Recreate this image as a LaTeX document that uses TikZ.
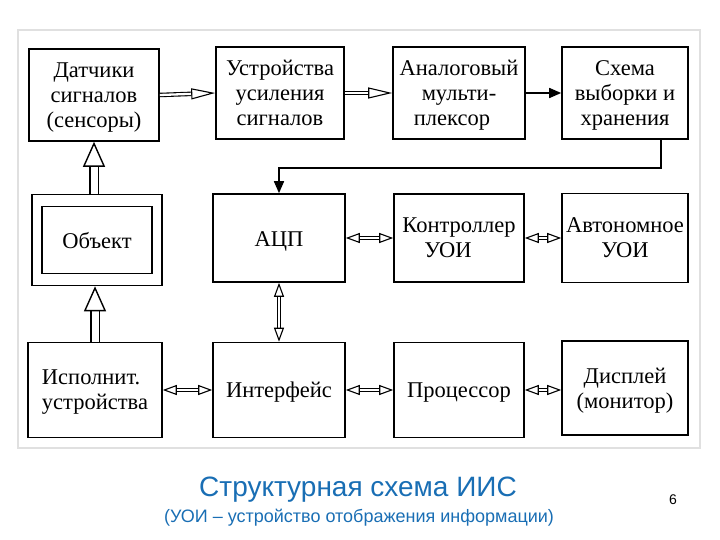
\documentclass[tikz,border=0pt]{standalone}
\usepackage{fontspec}
\setmainfont{Liberation Serif}
\setsansfont{Liberation Sans}
\usetikzlibrary{arrows.meta}
\definecolor{titleblue}{RGB}{25,110,180}

\begin{document}
\begin{tikzpicture}[x=1pt,y=-1pt]
\tikzstyle{every node}+=[inner sep=0pt]
\tikzstyle{box}=[draw, line width=1.6pt, minimum width=130pt, minimum height=92pt, align=center, text depth=0pt, font=\fontsize{22.5}{25}\selectfont]
\tikzstyle{hollow}=[double, double distance=2.3pt, line width=1.1pt, -{Triangle[open,length=24pt,width=11pt,line width=1.1pt]}]
\tikzstyle{hollowboth}=[double, double distance=2.3pt, line width=1.1pt, {Triangle[open,length=14pt,width=10pt,line width=1.1pt]}-{Triangle[open,length=14pt,width=10pt,line width=1.1pt]}]
\tikzstyle{bighollow}=[double, double distance=7pt, line width=1.4pt, -{Triangle[open,length=25pt,width=22pt,line width=1.4pt]}]
\tikzstyle{solid arrow}=[line width=1.6pt, -{Triangle[length=12pt,width=10pt]}]
\useasboundingbox (0,0) rectangle (720,540);
\draw [black!12, line width=1.5pt, fill=white] (18,30) rectangle (700,448);
% first row
\draw (94,95) node [box] (dat) {Датчики\\сигналов\\(сенсоры)};
\draw (280,93) node [box, minimum width=128pt] (usil) {Устройства\\усиления\\сигналов};
\draw (459,93) node [box, minimum width=132pt] (mux) {Аналоговый\\мульти-\hspace*{14pt}\\плексор\hspace*{14pt}};
\draw (625,93) node [box, minimum width=126pt] (sh) {Схема\\выборки и\\хранения};
% second row
\draw (97,240) node [box, minimum height=91pt] (objout) {};
\draw (97,240) node [box, minimum width=110pt, minimum height=67pt] (obj) {Объект};
\draw (279,238) node [box, minimum width=132pt, minimum height=88pt] (adc) {\raisebox{-3pt}{АЦП}};
\draw (459,238) node [box, minimum height=88pt] (ctrl) {Контроллер\\УОИ\hspace*{22pt}};
\draw (625,238) node [box, minimum width=126pt, minimum height=89pt] (auto) {Автономное\\УОИ};
% third row
\draw (95,390) node [box, minimum width=134pt, minimum height=95pt, align=left] (isp) {Исполнит.\\устройства};
\draw (279,390) node [box, minimum width=132pt, minimum height=95pt] (intf) {Интерфейс};
\draw (459,390) node [box, minimum width=130pt, minimum height=95pt] (proc) {Процессор};
\draw (625,388) node [box, minimum width=126pt, minimum height=94pt] (disp) {Дисплей\\(монитор)};
% connectors
\draw [hollow] (dat.east) -- (usil.west);
\draw [hollow] (usil.east) -- (mux.west);
\draw [solid arrow] (mux.east) -- (sh.west);
\draw [solid arrow] ([xshift=36pt]sh.south) -- ++(0,28) -| (adc.north);
\draw [bighollow] (objout.north -| dat.south) -- (dat.south);
\draw [bighollow] (isp.north) -- (isp.north |- objout.south);
\draw [hollowboth] (adc.south) -- (intf.north);
\draw [hollowboth] (adc.east) -- (ctrl.west);
\draw [hollowboth] (ctrl.east) -- (auto.west);
\draw [hollowboth] (isp.east) -- (intf.west);
\draw [hollowboth] (intf.east) -- (proc.west);
\draw [hollowboth] (proc.east) -- (disp.west |- proc.east);
% caption
\draw (358,490) node [font=\sffamily\fontsize{28}{32}\selectfont, text=titleblue] (title) {Структурная схема ИИС};
\draw (359,518) node [font=\sffamily\fontsize{18}{21}\selectfont, text=titleblue] (sub) {(УОИ – устройство отображения информации)};
\draw (673,500) node [font=\sffamily\fontsize{14}{16}\selectfont] (num) {6};
\end{tikzpicture}
\end{document}
